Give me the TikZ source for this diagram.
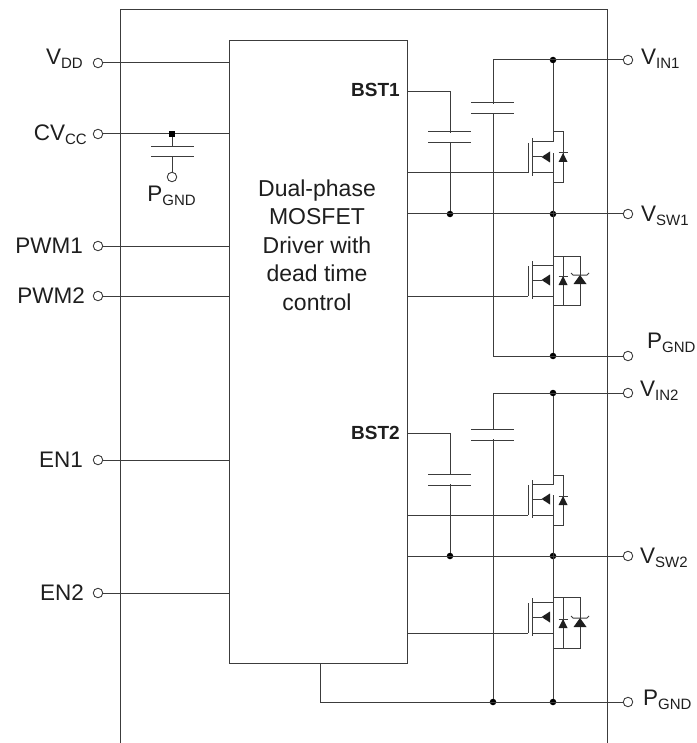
\documentclass[tikz,border=0pt]{standalone}
\usepackage{fontspec}
\setmainfont{Liberation Sans}
\definecolor{wireGray}{RGB}{60,60,60}
\definecolor{pinBlack}{RGB}{30,30,30}
\newcommand{\pinname}[2]{\fontsize{22.5}{23}\selectfont #1\raisebox{-4pt}{\fontsize{15}{15}\selectfont #2}}
% one fet at (#1,#2): #1 = gate plate x, #2 = source y
\newcommand{\fetbody}[2]{
	\begin{scope}[shift={(#1,#2)}]
		\draw[wire] (0,-30) -- (0,0);
		\draw[wire] (4,-35) -- (4,3);
		\draw[wire] (4,-31) -- (25,-31);
		\draw[wire] (4,0) -- (25,0) -- (25,-20);
		\draw[wire] (4,-16) -- (14,-16);
		\fill[pinBlack] (13.5,-16) -- (22,-21.5) -- (22,-10.5) -- cycle;
	\end{scope}
}
% small diode with the bar on top, #2 = y of the bar
\newcommand{\smalldiode}[2]{
	\fill[pinBlack] (#1,#2) -- (#1-4.5,#2+9) -- (#1+4.5,#2+9) -- cycle;
	\draw[wire] (#1-4.5,#2) -- (#1+4.5,#2);
}
\newcommand{\zenerdiode}[2]{
	\fill[pinBlack] (#1,#2) -- (#1-6.5,#2+9) -- (#1+6.5,#2+9) -- cycle;
	\draw[wire] (#1-9,#2-2) -- (#1-7,#2) -- (#1+7,#2) -- (#1+9,#2-2);
}
\tikzset{
	wire/.style={draw=wireGray, line width=1pt},
	pin/.style={circle, draw=wireGray, fill=white, line width=0.9pt, minimum size=9.5pt, inner sep=0pt},
	joint/.style={circle, fill=black, minimum size=6.5pt, inner sep=0pt},
	pinlabel/.style={text=pinBlack, inner sep=0pt},
	plate/.style={draw=wireGray, line width=1pt}
}
\begin{document}
\begin{tikzpicture}[x=1pt, y=-1pt]
		\useasboundingbox (0,0) rectangle (696,743);
		
		% frame
		\draw[wire] (120,743) -- (120,10) -- (607,10) -- (607,743);
		
		\node[draw=wireGray, line width=1pt, fill=white, minimum width=178pt, minimum height=622pt, inner sep=0pt] (drv) at (318,352) {};
		\node[pinBlack, align=center, font=\fontsize{23}{28.5}\selectfont] (drvtext) at (317,245) {Dual-phase\\MOSFET\\Driver with\\dead time\\control};
		
		% left pins
		\node[pin] (vdd) at (98,63) {};
		\node[pin] (cvcc) at (98,134) {};
		\node[pin] (pwma) at (98,246) {};
		\node[pin] (pwmb) at (98,296) {};
		\node[pin] (ena) at (98,460) {};
		\node[pin] (enb) at (98,593) {};
		\node[pin] (capgnd) at (172,177) {};
		
		\node[pinlabel, anchor=base east] (vddtext) at (83,65) {\pinname{V}{DD}};
		\node[pinlabel, anchor=base east] (cvcctext) at (87,141) {\pinname{CV}{CC}};
		\node[pinlabel, anchor=base] (capgndtext) at (171.5,202) {\pinname{P}{GND}};
		\node[pinlabel, anchor=base east] (pwmatext) at (83,253) {\fontsize{22.5}{23}\selectfont PWM1};
		\node[pinlabel, anchor=base east] (pwmbtext) at (85,303) {\fontsize{22.5}{23}\selectfont PWM2};
		\node[pinlabel, anchor=base east] (enatext) at (83,467) {\fontsize{22.5}{23}\selectfont EN1};
		\node[pinlabel, anchor=base east] (enbtext) at (84,600) {\fontsize{22.5}{23}\selectfont EN2};
		
		\foreach \p in {vdd,cvcc,pwma,pwmb,ena,enb}
			\draw[wire] (\p) -- (\p -| drv.west);
		
		% cvcc capacitor
		\node[joint, rectangle, minimum size=5.5pt] (capjoint) at (172,134) {};
		\coordinate (capup) at (172,147);
		\coordinate (capdown) at (172,157);
		\draw[wire] (capjoint) -- (capup);
		\draw[wire] (capdown) -- (capgnd);
		\draw[plate] (151,147) -- (194,147);
		\draw[plate] (151,157) -- (194,157);
		
		% right pins
		\node[pin] (vina) at (628,60) {};
		\node[pin] (vswa) at (628,214) {};
		\node[pin] (pgnda) at (628,356) {};
		\node[pin] (vinb) at (628,393) {};
		\node[pin] (vswb) at (628,556) {};
		\node[pin] (pgndb) at (628,702) {};
		
		\node[pinlabel, anchor=base west] (vinatext) at (641,65) {\pinname{V}{IN1}};
		\node[pinlabel, anchor=base west] (vswatext) at (641,222) {\pinname{V}{SW1}};
		\node[pinlabel, anchor=base west] (pgndatext) at (647,348) {\pinname{P}{GND}};
		\node[pinlabel, anchor=base west] (vinbtext) at (640,396) {\pinname{V}{IN2}};
		\node[pinlabel, anchor=base west] (vswbtext) at (640,563) {\pinname{V}{SW2}};
		\node[pinlabel, anchor=base west] (pgndbtext) at (643,705) {\pinname{P}{GND}};
		
		\node[pinlabel, anchor=base east, font=\bfseries\fontsize{19}{19}\selectfont] (bsta) at (400,97) {BST1};
		\node[pinlabel, anchor=base east, font=\bfseries\fontsize{19}{19}\selectfont] (bstb) at (400,439) {BST2};
		
		% joints
		\node[joint] (inadot) at (553,60) {};
		\node[joint] (swadot) at (553,214) {};
		\node[joint] (bootadot) at (450,214) {};
		\node[joint] (gndadot) at (553,356) {};
		\node[joint] (inbdot) at (553,393) {};
		\node[joint] (swbdot) at (553,556) {};
		\node[joint] (bootbdot) at (450,556) {};
		\node[joint] (gndbdot) at (553,702) {};
		\node[joint] (railbdot) at (493,702) {};
		
		% rails
		\coordinate (raila) at (493,60);
		\coordinate (railb) at (493,393);
		\coordinate (bootatop) at (450,92);
		\coordinate (bootbtop) at (450,433);
		\draw[wire] (raila) -- (vina);
		\draw[wire] (vswa -| drv.east) -- (vswa);
		\draw[wire] (raila) -- (raila |- pgnda) -- (pgnda);
		\draw[wire] (railb) -- (vinb);
		\draw[wire] (vswb -| drv.east) -- (vswb);
		\draw[wire] (railb) -- (railbdot);
		\draw[wire] (drv.south -| 320,0) -- (320,702) -- (pgndb);
		\draw[wire] (inadot) -- (553,142);
		\draw[wire] (553,173) -- (gndadot);
		\draw[wire] (inbdot) -- (553,485);
		\draw[wire] (553,515) -- (gndbdot);
		
		% boost lines
		\draw[wire] (bootatop -| drv.east) -- (bootatop) -- (bootadot);
		\draw[wire] (bootbtop -| drv.east) -- (bootbtop) -- (bootbdot);
		
		% capacitors
		\foreach \cx/\cy in {450/132, 493/103, 450/474, 493/429} {
			\fill[white] (\cx-3,\cy+1) rectangle (\cx+3,\cy+10);
			\draw[plate] (\cx-22,\cy) -- (\cx+21,\cy);
			\draw[plate] (\cx-22,\cy+11) -- (\cx+21,\cy+11);
		}
		
		% gates
		\draw[wire] (407,173) -- (528,173);
		\draw[wire] (407,296) -- (528,296);
		\draw[wire] (407,515) -- (528,515);
		\draw[wire] (407,633) -- (528,633);
		
		% first phase
		\fetbody{528}{173}
		\fetbody{528}{296}
		\draw[wire] (553,132) -- (563,132) -- (563,183) -- (553,183);
		\smalldiode{563}{153}
		\draw[wire] (553,256) -- (580,256) -- (580,305) -- (553,305);
		\draw[wire] (563,256) -- (563,305);
		\smalldiode{563}{276}
		\zenerdiode{580}{275}
		
		% second phase
		\fetbody{528}{515}
		\fetbody{528}{633}
		\draw[wire] (553,475) -- (563,475) -- (563,525) -- (553,525);
		\smalldiode{563}{496}
		\draw[wire] (553,597) -- (580,597) -- (580,648) -- (553,648);
		\draw[wire] (563,597) -- (563,648);
		\smalldiode{563}{619}
		\zenerdiode{580}{618}
	\end{tikzpicture}
\end{document}
